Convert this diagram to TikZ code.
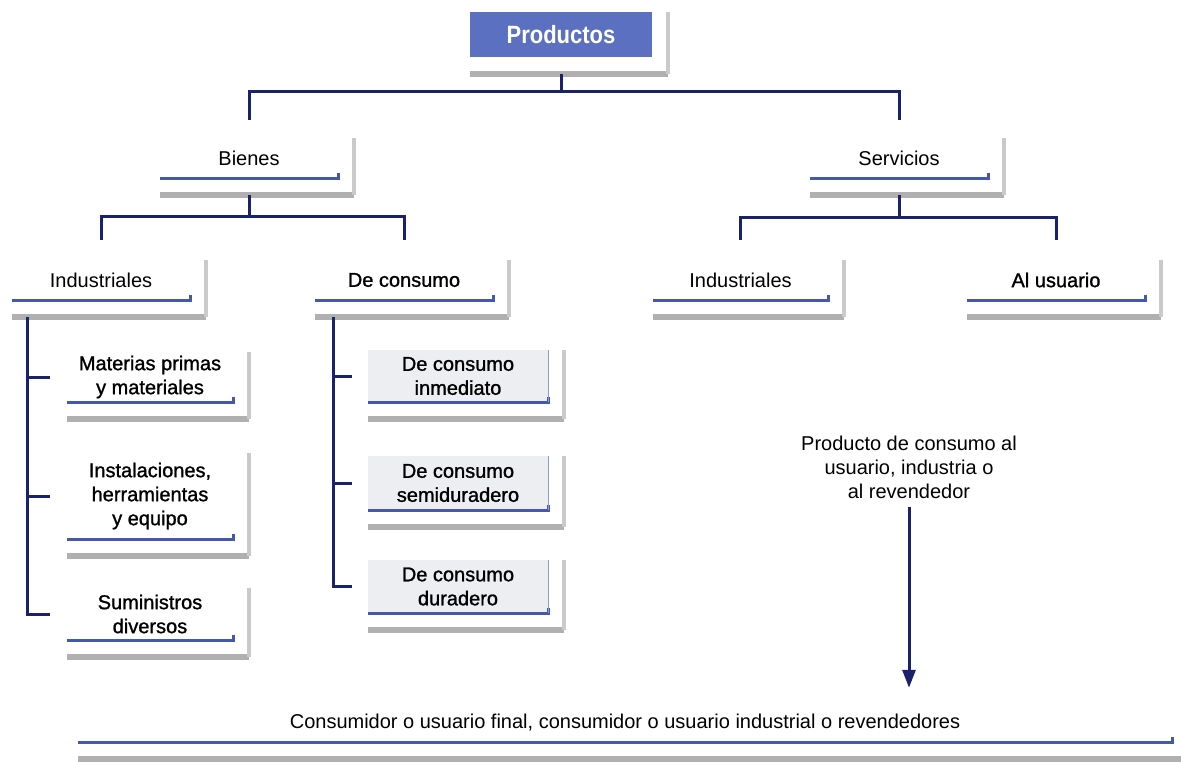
\documentclass[tikz,border=0pt]{standalone}
\usepackage{fontspec}
\setmainfont{Liberation Sans}
\newfontfamily\titlefont[FakeStretch=0.88]{Liberation Sans Bold}
\newfontfamily\medfont[FakeBold=1.2]{Liberation Sans}
\usetikzlibrary{arrows.meta}

\definecolor{linknavy}{RGB}{26,34,108}
\definecolor{ulblue}{RGB}{68,88,176}
\definecolor{titleblue}{RGB}{92,112,194}
\definecolor{shadowgray}{RGB}{176,176,176}
\definecolor{shadowlight}{RGB}{202,202,202}
\definecolor{boxfill}{RGB}{236,238,242}

\tikzset{
  txt/.style={font=\fontsize{20}{24}\selectfont, align=center, inner sep=0pt},
  plainbox/.style={txt, minimum width=#1},
  medbox/.style={txt, font=\fontsize{20}{24}\selectfont\medfont, minimum width=#1},
  fillbox/.style={medbox=#1, fill=boxfill},
  titlebox/.style={inner sep=0pt, fill=titleblue, text=white,
    font=\fontsize{25}{28}\selectfont\titlefont},
  conn/.style={draw=linknavy, line width=3pt},
  uline/.style={draw=ulblue, line width=2.8pt},
  edgeline/.style={draw=ulblue!60, line width=1pt},
  shadowh/.style={draw=shadowgray, line width=5.5pt},
  shadowv/.style={draw=shadowlight, line width=4.5pt},
  arrowline/.style={conn, -{Triangle[length=18pt,width=13pt]}}
}

% gray offset shadow along the bottom and right of a box
\newcommand\boxshadow[1]{%
  \draw[shadowh] ([yshift=-17pt]#1.south west) -- ([xshift=16pt,yshift=-17pt]#1.south east);
  \draw[shadowv] ([xshift=16pt]#1.north east) -- ([xshift=16pt,yshift=-17pt]#1.south east);
}
% blue rule under a box with a short upturn at its right end
\newcommand\boxrule[1]{%
  \draw[uline] (#1.south west) -- (#1.south east) -- ([yshift=5pt]#1.south east);
}

\begin{document}
\begin{tikzpicture}[x=1pt, y=-1pt]
\useasboundingbox (0,0) rectangle (1181,762);

% top level
\node[titlebox, minimum width=182pt, minimum height=45pt] (prod) at (561,34.5) {Productos};

% second level
\node[plainbox=178pt, minimum height=40pt] (bienes) at (249,158) {Bienes};
\node[plainbox=178pt, minimum height=40pt] (servicios) at (899,158) {Servicios};

% third level
\node[plainbox=178pt, minimum height=40pt] (indL) at (101,280) {Industriales};
\node[medbox=178pt, minimum height=40pt] (decons) at (404,280) {De consumo};
\node[plainbox=175pt, minimum height=40pt] (indR) at (740.5,280) {Industriales};
\node[medbox=178pt, minimum height=40pt] (alusu) at (1056,280) {Al usuario};

% industrial goods
\node[medbox=166pt, minimum height=50pt] (mat) at (150,377) {Materias primas\\y materiales};
\node[medbox=166pt, minimum height=86pt] (inst) at (150,496) {Instalaciones,\\herramientas\\y equipo};
\node[medbox=166pt, minimum height=52pt] (sumi) at (150,614) {Suministros\\diversos};

% consumer goods
\node[fillbox=180pt, minimum height=52pt] (inm) at (458,376) {De consumo\\inmediato};
\node[fillbox=180pt, minimum height=54pt] (semi) at (458,483) {De consumo\\semiduradero};
\node[fillbox=180pt, minimum height=53pt] (dur) at (458,586.5) {De consumo\\duradero};

% flow to the final users
\node[txt] (ptext) at (909,467) {Producto de consumo al\\usuario, industria o\\al revendedor};
\node[plainbox=1094pt, minimum height=38pt] (final) at (625,723)
  {Consumidor o usuario final, consumidor o usuario industrial o revendedores};

% shadows and rules
\foreach \n in {prod,bienes,servicios,indL,decons,indR,alusu,mat,inst,sumi,inm,semi,dur,final}
  {\boxshadow{\n}}
\foreach \n in {bienes,servicios,indL,decons,indR,alusu,mat,inst,sumi,inm,semi,dur,final}
  {\boxrule{\n}}
\foreach \n in {inm,semi,dur}
  {\draw[edgeline] (\n.north east) -- (\n.south east);}

% connectors: products
\coordinate (bar1) at (561,92);
\draw[conn] ([yshift=-17pt]prod.south) -- (bar1);
\draw[conn, shorten >=18pt] (bar1) -| (bienes.north);
\draw[conn, shorten >=18pt] (bar1) -| (servicios.north);

% connectors: goods
\coordinate (bar2) at (249,217);
\draw[conn] ([yshift=-17pt]bienes.south) -- (bar2);
\draw[conn, shorten >=20pt] (bar2) -| (indL.north);
\draw[conn, shorten >=20pt] (bar2) -| (decons.north);

% connectors: services
\coordinate (bar3) at (899,218);
\draw[conn] ([yshift=-17pt]servicios.south) -- (bar3);
\draw[conn, shorten >=20pt] (bar3) -| (indR.north);
\draw[conn, shorten >=20pt] (bar3) -| (alusu.north);

% industrial goods branch
\coordinate (trunkL) at (27,317);
\draw[conn, shorten >=17pt] (trunkL) |- (sumi.west);
\draw[conn, shorten >=17pt] (trunkL |- mat.west) -- (mat.west);
\draw[conn, shorten >=17pt] (trunkL |- inst.west) -- (inst.west);

% consumer goods branch
\coordinate (trunkC) at (333,317);
\draw[conn, shorten >=16pt] (trunkC) |- (dur.west);
\draw[conn, shorten >=16pt] (trunkC |- inm.west) -- (inm.west);
\draw[conn, shorten >=16pt] (trunkC |- semi.west) -- (semi.west);

% arrow down to the final users
\draw[arrowline, shorten <=8pt, shorten >=16pt] (ptext.south) -- (ptext.south |- final.north);
\end{tikzpicture}
\end{document}
